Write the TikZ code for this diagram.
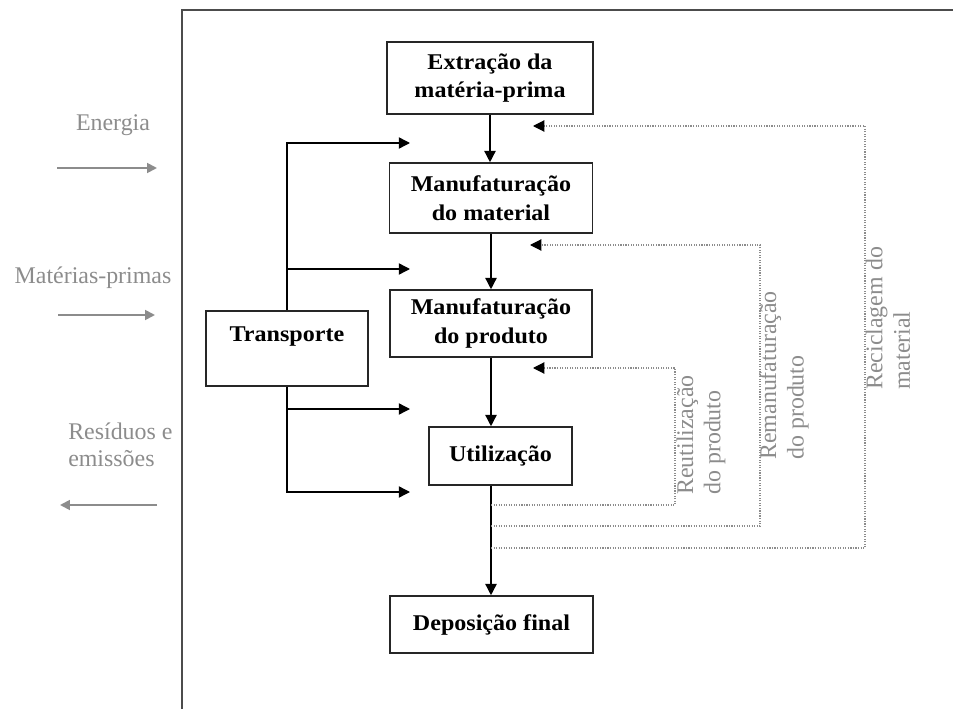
\documentclass[tikz,border=0pt]{standalone}
\usepackage{fontspec}
\setmainfont{Liberation Serif}
\newfontfamily\stagefont[FakeStretch=1.07]{Liberation Serif}
\usetikzlibrary{arrows.meta}

\begin{document}
\begin{tikzpicture}[x=0.025cm, y=-0.025cm,
	box/.style={draw=black!85, line width=1.1pt, inner sep=0pt, align=center, font=\stagefont\bfseries\fontsize{16}{20.5}\selectfont},
	flow/.style={line width=1pt, -{Triangle[length=8pt,width=8pt]}},
	feed/.style={draw=black!45, densely dotted, line width=0.8pt, -{Triangle[length=8pt,width=8pt,black]}},
	side/.style={text=black!45, font=\fontsize{17}{19.5}\selectfont},
	sidearrow/.style={draw=black!45, line width=1.3pt, -{Triangle[length=7pt,width=7pt]}}]
	\useasboundingbox (0,0) rectangle (953,709);
	\draw[black!70, line width=1.8pt] (182,709) |- (953,10);

	% stages
	\node[box, minimum width=5.15cm, minimum height=1.8cm] (ext) at (490,78) {Extração da\\matéria-prima};
	\node[box, minimum width=5.075cm, minimum height=1.75cm] (mat) at (491,198) {Manufaturação\\do material};
	\node[box, minimum width=5.05cm, minimum height=1.675cm] (prod) at (491,323.5) {Manufaturação\\do produto};
	\node[box, minimum width=3.575cm, minimum height=1.45cm] (util) at (500.5,456) {Utilização};
	\node[box, minimum width=5.075cm, minimum height=1.425cm] (dep) at (491.5,624.5) {Deposição final};
	\node[box, minimum width=4.05cm, minimum height=1.875cm] (transp) at (287,348.5) {Transporte\\~};

	\draw[flow] (ext.south) -- (ext.south |- mat.north);
	\draw[flow] (mat.south) -- (mat.south |- prod.north);
	\draw[flow] (prod.south) -- (prod.south |- util.north);
	\draw[flow] (util.south -| prod.south) -- (prod.south |- dep.north);

	% transport
	\coordinate (tA) at (410,143);
	\coordinate (tB) at (410,269);
	\coordinate (tC) at (410,409);
	\coordinate (tD) at (410,492);
	\draw[flow] (transp.north) |- (tA);
	\draw[flow] (transp.north) |- (tB);
	\draw[flow] (transp.south) |- (tC);
	\draw[flow] (transp.south) |- (tD);

	% loops back
	\coordinate (reuA) at (491,505);
	\coordinate (reuB) at (675,368);
	\coordinate (reuC) at (533,368);
	\draw[feed] (reuA) -| (reuB) -- (reuC);
	\coordinate (remA) at (491,526);
	\coordinate (remB) at (760,245);
	\coordinate (remC) at (530,245);
	\draw[feed] (remA) -| (remB) -- (remC);
	\coordinate (recA) at (491,548);
	\coordinate (recB) at (865,126);
	\coordinate (recC) at (533,126);
	\draw[feed] (recA) -| (recB) -- (recC);

	\node[side, rotate=90, align=left, anchor=west, inner sep=0pt] (reuLbl) at (701,495) {Reutilização\\do produto};
	\node[side, rotate=90, align=left, anchor=west, inner sep=0pt] (remLbl) at (784,460) {Remanufaturação\\do produto};
	\node[side, rotate=90, align=left, anchor=west, inner sep=0pt] (recLbl) at (888,390) {Reciclagem do\\material};

	% inputs and outputs
	\node[side] (energia) at (113,125) {Energia};
	\node[side] (materias) at (93,278) {Matérias-primas};
	\node[side, align=left, anchor=west, inner sep=0pt] (residuos) at (68,445) {Resíduos e\\emissões};
	\coordinate (eA) at (57,168);
	\coordinate (eB) at (157,168);
	\coordinate (mA) at (58,315);
	\coordinate (mB) at (155,315);
	\coordinate (rA) at (157,505);
	\coordinate (rB) at (60,505);
	\draw[sidearrow] (eA) -- (eB);
	\draw[sidearrow] (mA) -- (mB);
	\draw[sidearrow] (rA) -- (rB);
\end{tikzpicture}
\end{document}
